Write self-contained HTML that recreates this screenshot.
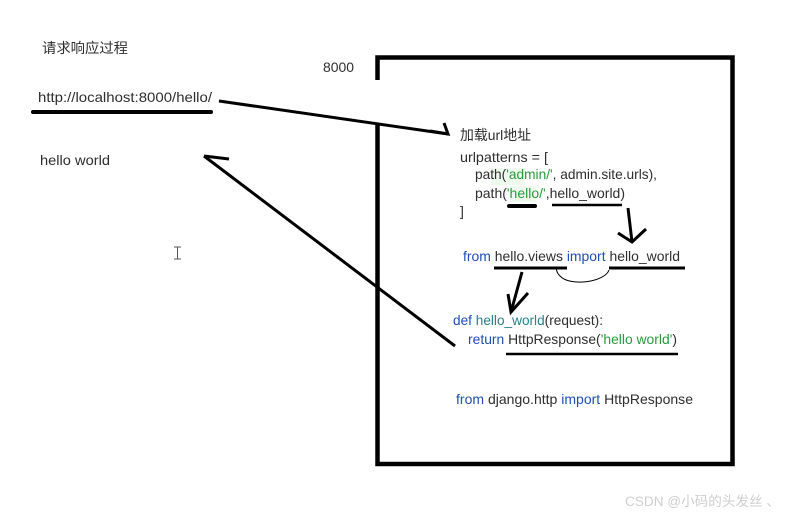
<!DOCTYPE html>
<html><head><meta charset="utf-8"><style>
html,body{margin:0;padding:0;background:#fff;width:789px;height:515px;overflow:hidden}
svg{display:block}
text{font-family:"Liberation Sans","Noto Sans CJK SC",sans-serif;font-size:14px;fill:#2e2e2e}
.b{fill:#1f4fb5}.g{fill:#2a9a3c}.t{fill:#2b7f8f}
</style></head><body>
<svg width="789" height="515" viewBox="0 0 789 515" xmlns="http://www.w3.org/2000/svg">
<rect x="491" y="168" width="34" height="17" fill="#eefaee"/>
<rect x="510" y="186" width="26" height="16" fill="#eefaee"/>
<g fill="none" stroke="#000" stroke-linecap="butt">
<path d="M377.500 80V57.500H732.500V464H377.500V124" stroke-width="4.500"/>
<path d="M33 112H211" stroke-width="4" stroke-linecap="round"/>
<path d="M219 101L448 134" stroke-width="3"/>
<path d="M444 123L448 134L430 131" stroke-width="3"/>
<path d="M204 156L455 346" stroke-width="3"/>
<path d="M204 156L229 159" stroke-width="3"/>
<path d="M509 206H535" stroke-width="4" stroke-linecap="round"/>
<path d="M552 205H622" stroke-width="2.500"/>
<path d="M628 208L632 242" stroke-width="3"/>
<path d="M618 233L632 242L646 229" stroke-width="3"/>
<path d="M494 268H567M609 268H685" stroke-width="3"/>
<path d="M609 270C605 282 570 287 560 276C556 272 556 268 557 267" stroke-width="1"/>
<path d="M522 272L511 312" stroke-width="3"/>
<path d="M508 294L511 312L528 293" stroke-width="3"/>
<path d="M506 354H678" stroke-width="2.500"/>
</g>
<path d="M174 247H181M177.500 247V259M174 259H181" fill="none" stroke="#555" stroke-width="1"/>
<text x="42" y="53" textLength="86" lengthAdjust="spacingAndGlyphs">请求响应过程</text>
<text x="38" y="102" textLength="174" lengthAdjust="spacingAndGlyphs">http://localhost:8000/hello/</text>
<text x="40" y="165" textLength="70" lengthAdjust="spacingAndGlyphs">hello world</text>
<text x="323" y="72" textLength="31" lengthAdjust="spacingAndGlyphs">8000</text>
<text x="460" y="140" textLength="71" lengthAdjust="spacingAndGlyphs">加载url地址</text>
<text x="460" y="162" textLength="88" lengthAdjust="spacingAndGlyphs">urlpatterns = [</text>
<text x="475" y="179" textLength="182" lengthAdjust="spacingAndGlyphs">path(<tspan class="g">'admin/'</tspan>, admin.site.urls),</text>
<text x="475" y="198" textLength="150" lengthAdjust="spacingAndGlyphs">path(<tspan class="g">'hello/'</tspan>,hello_world)</text>
<text x="460" y="216">]</text>
<text x="463" y="261" textLength="217" lengthAdjust="spacingAndGlyphs"><tspan class="b">from</tspan> hello.views <tspan class="b">import</tspan> hello_world</text>
<text x="453" y="325" textLength="150" lengthAdjust="spacingAndGlyphs"><tspan class="b">def</tspan> <tspan class="t">hello_world</tspan>(request):</text>
<text x="468" y="344" textLength="209" lengthAdjust="spacingAndGlyphs"><tspan class="b">return</tspan> HttpResponse(<tspan class="g">'hello world'</tspan>)</text>
<text x="456" y="404" textLength="237" lengthAdjust="spacingAndGlyphs"><tspan class="b">from</tspan> django.http <tspan class="b">import</tspan> HttpResponse</text>
<text x="625" y="506" textLength="155" lengthAdjust="spacingAndGlyphs" style="fill:#cfcfcf;font-size:13.500px">CSDN @小码的头发丝 、</text>
</svg>
</body></html>
